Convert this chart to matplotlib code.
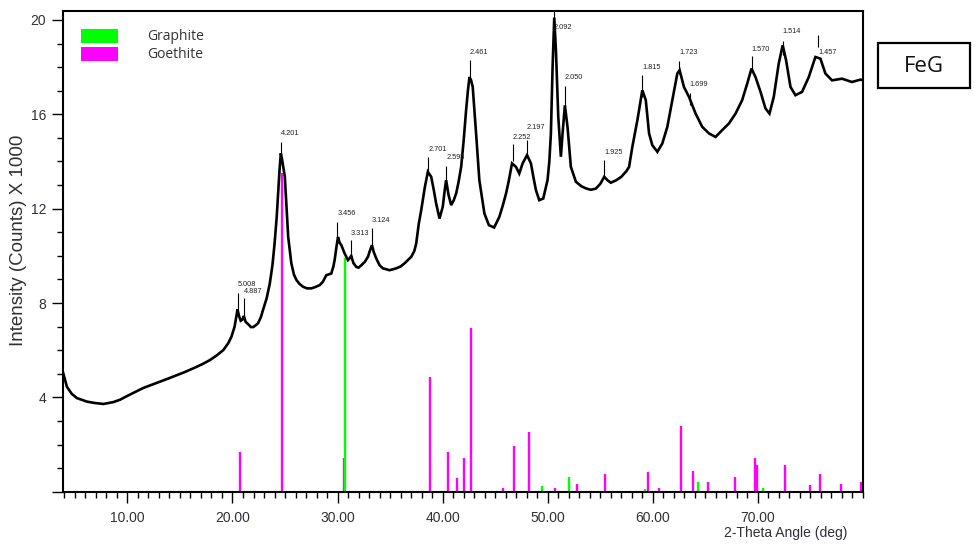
import matplotlib
matplotlib.use("Agg")
import matplotlib.pyplot as plt
from matplotlib.patches import Rectangle
import numpy as np

plt.rcParams['font.family'] = ['Liberation Sans', 'DejaVu Sans']

# ---------------- data ----------------
two_theta = [3.89, 4.24, 4.7, 5.19, 6.14, 6.9, 7.72, 8.67, 9.3, 9.94, 10.7, 11.52, 12.3, 13.1, 13.9,
             14.69, 15.5, 16.27, 17.1, 17.85, 18.5, 19.12, 19.6, 19.9, 20.2, 20.48, 20.62, 20.78, 20.95,
             21.08, 21.25, 21.49, 21.75, 21.97, 22.2, 22.44, 22.7, 22.9, 23.25, 23.55, 23.8, 24.0, 24.2,
             24.34, 24.47, 24.6, 24.75, 24.98, 25.15, 25.3, 25.6, 25.85, 26.09, 26.4, 26.71, 27.1, 27.5,
             27.9, 28.3, 28.6, 28.93, 29.2, 29.4, 29.6, 29.72, 29.9, 30.04, 30.2, 30.36, 30.67, 30.99,
             31.15, 31.3, 31.5, 31.78, 32.0, 32.26, 32.6, 32.89, 33.1, 33.27, 33.45, 33.68, 34.0, 34.31,
             34.95, 35.58, 36.0, 36.37, 37.01, 37.3, 37.48, 37.73, 37.96, 38.3, 38.59, 38.91, 39.15,
             39.38, 39.7, 40.01, 40.2, 40.33, 40.55, 40.81, 41.05, 41.28, 41.5, 41.76, 42.0, 42.23, 42.4,
             42.55, 42.7, 42.86, 43.0, 43.18, 43.49, 43.97, 44.4, 44.9, 45.39, 45.7, 46.03, 46.3, 46.6,
             46.98, 47.29, 47.61, 48.03, 48.4, 48.65, 48.88, 49.19, 49.57, 49.98, 50.15, 50.3, 50.46,
             50.62, 50.78, 51.0, 51.25, 51.41, 51.63, 51.88, 52.2, 52.68, 53.2, 53.63, 54.1, 54.58, 55.0,
             55.37, 55.7, 56.0, 56.5, 57.0, 57.5, 57.74, 58.05, 58.53, 59.0, 59.33, 59.64, 59.95, 60.43,
             60.9, 61.38, 61.85, 62.33, 62.55, 62.96, 63.44, 64.07, 64.7, 65.34, 65.97, 66.6, 67.24,
             67.87, 68.5, 68.98, 69.39, 69.77, 70.25, 70.72, 71.1, 71.51, 71.98, 72.36, 72.68, 73.1,
             73.57, 74.2, 74.84, 75.47, 75.95, 76.42, 77.05, 78.0, 78.95, 79.75, 80.0]
intensity = [5.03, 4.45, 4.15, 3.97, 3.82, 3.76, 3.72, 3.8, 3.9, 4.05, 4.22, 4.4, 4.53, 4.66, 4.8,
             4.94, 5.08, 5.23, 5.4, 5.58, 5.78, 6.0, 6.3, 6.57, 7.0, 7.73, 7.45, 7.25, 7.3,
             7.45, 7.2, 7.1, 6.98, 6.98, 7.05, 7.15, 7.4, 7.7, 8.2, 8.83, 9.6, 10.5, 11.6,
             12.64, 13.6, 14.35, 14.0, 13.35, 12.0, 10.8, 9.68, 9.2, 8.97, 8.8, 8.69, 8.62, 8.62,
             8.68, 8.76, 8.9, 9.18, 9.22, 9.25, 9.55, 9.82, 10.4, 10.8, 10.55, 10.45, 10.1, 9.82,
             9.9, 10.0, 9.7, 9.53, 9.5, 9.6, 9.75, 9.96, 10.25, 10.45, 10.15, 9.89, 9.6, 9.47,
             9.39, 9.47, 9.55, 9.68, 9.96, 10.2, 10.52, 11.37, 11.94, 12.9, 13.56, 13.35, 12.8,
             12.22, 11.58, 12.08, 12.8, 13.21, 12.6, 12.15, 12.35, 12.64, 13.1, 13.77, 14.9, 16.17, 17.0,
             17.58, 17.45, 17.16, 16.3, 15.19, 13.21, 11.8, 11.3, 11.2, 11.65, 12.1, 12.64, 13.2, 13.92,
             13.77, 13.49, 13.92, 14.27, 13.92, 13.3, 12.78, 12.36, 12.43, 13.21, 14.0, 15.19, 18.0,
             20.1, 18.7, 15.9, 14.2, 15.19, 16.38, 15.47, 13.77, 13.14, 12.95, 12.86, 12.8, 12.85, 13.05,
             13.35, 13.2, 13.1, 13.2, 13.35, 13.6, 13.77, 14.62, 15.75, 17.02, 16.6, 15.19, 14.69, 14.41,
             14.76, 15.47, 16.6, 17.73, 17.87, 17.16, 16.74, 16.03, 15.47, 15.19, 15.04, 15.33, 15.61,
             16.03, 16.6, 17.3, 17.94, 17.58, 16.95, 16.25, 16.03, 16.74, 18.15, 18.93, 18.29, 17.16,
             16.81, 16.95, 17.58, 18.43, 18.36, 17.73, 17.44, 17.51, 17.37, 17.47, 17.45]

goethite_pos = [20.70, 24.72, 30.61, 38.81, 40.49, 41.34, 42.04, 42.74, 45.71, 46.79, 48.18, 50.68,
                52.80, 55.46, 59.51, 60.59, 62.68, 63.85, 65.24, 67.81, 69.71, 69.87, 72.62, 74.99,
                75.88, 77.94, 79.80]
goethite_int = [1.69, 13.5, 1.41, 4.85, 1.69, 0.57, 1.41, 6.93, 0.17, 1.94, 2.52, 0.17,
                0.31, 0.74, 0.85, 0.17, 2.78, 0.88, 0.42, 0.61, 1.41, 1.13, 1.13, 0.28,
                0.74, 0.31, 0.42]
graphite_pos = [30.70, 49.45, 52.01, 59.26, 64.26, 70.53]
graphite_int = [9.9, 0.24, 0.64, 0.13, 0.42, 0.14]

peak_labels = ['5.008', '4.887', '4.201', '3.456', '3.313', '3.124', '2.701', '2.595', '2.461',
               '2.252', '2.197', '2.092', '2.050', '1.925', '1.815', '1.723', '1.699', '1.570',
               '1.514', '1.457']
peak_pos = [20.48, 21.08, 24.57, 29.98, 31.24, 33.27, 38.65, 40.33, 42.60, 46.66, 48.03, 50.55,
            51.63, 55.37, 59.00, 62.49, 63.50, 69.39, 72.36, 75.72]
peak_lo = [7.73, 7.39, 14.27, 10.8, 10.1, 10.45, 13.56, 13.2, 17.6, 14.0, 14.27, 19.9, 16.3,
           13.4, 16.75, 17.7, 16.4, 17.9, 18.5, 18.86]
peak_hi = [8.41, 8.2, 14.83, 11.44, 10.66, 11.17, 14.19, 13.81, 18.29, 14.73, 14.9, 20.4, 17.19,
           14.05, 17.65, 18.26, 16.9, 18.46, 19.1, 19.35]
label_y = [8.8, 8.47, 15.2, 11.8, 10.95, 11.48, 14.52, 14.19, 18.64, 15.0, 15.45, 19.68, 17.56,
           14.36, 17.98, 18.6, 17.28, 18.76, 19.5, 18.63]

xtick_vals = [10, 20, 30, 40, 50, 60, 70]
xtick_labels = ['10.00', '20.00', '30.00', '40.00', '50.00', '60.00', '70.00']
ytick_vals = [0, 4, 8, 12, 16, 20]
ytick_labels = ['', '4', '8', '12', '16', '20']

legend_names = ['Graphite', 'Goethite']
legend_colors = ['#00ff00', '#ff00ff']

# ---------------- figure ----------------
W, H = 975, 544
fig = plt.figure(figsize=(W / 100, H / 100), dpi=100)
ax = fig.add_axes([63 / W, 1 - 491.7 / H, 800 / W, (491.7 - 11) / H])
ax.set_xlim(3.87, 80)
ax.set_ylim(0, 20.38)

ax.vlines(goethite_pos, 0, goethite_int, colors='#ff00ff', lw=1.7, zorder=2)
ax.vlines(graphite_pos, 0, graphite_int, colors='#00ff00', lw=1.7, zorder=2)
ax.plot(two_theta, intensity, color='black', lw=1.9, zorder=3, solid_joinstyle='miter')
ax.vlines(peak_pos, peak_lo, peak_hi, colors='black', lw=0.8, zorder=4)
for x, y, t in zip(peak_pos, label_y, peak_labels):
    ax.text(x, y, t, fontsize=5.3, ha='left', va='center', color='#222222', zorder=5)

for s in ax.spines.values():
    s.set_linewidth(1.5)
    s.set_color('black')

ax.set_xticks(xtick_vals)
ax.set_xticklabels(xtick_labels)
ax.set_xticks(np.arange(4, 81, 1), minor=True)
ax.set_yticks(ytick_vals)
ax.set_yticklabels(ytick_labels)
ax.set_yticks(np.arange(0, 21, 1), minor=True)
ax.tick_params(which='major', direction='out', length=8, width=1.0, colors='black',
               labelcolor='#303038', labelsize=10)
ax.tick_params(which='minor', direction='out', length=4, width=1.0, colors='black')
ax.tick_params(axis='x', which='major', pad=6)
ax.tick_params(axis='y', which='major', pad=4)

fig.text(19 / W, 1 - 240 / H, 'Intensity (Counts) X 1000', rotation=90, ha='center', va='center',
         fontsize=13.5, color='#303038')
fig.text(847 / W, 1 - 533 / H, '2-Theta Angle (deg)', ha='right', va='center', fontsize=10,
         color='#303038')

# legend
rect_y = [29, 47]
text_y = [36, 54]
for name, col, ry, ty in zip(legend_names, legend_colors, rect_y, text_y):
    fig.patches.append(Rectangle((81 / W, 1 - (ry + 14) / H), 37 / W, 14 / H,
                                 transform=fig.transFigure, facecolor=col, edgecolor='none'))
    fig.text(147 / W, 1 - ty / H, name, ha='left', va='center', fontsize=10,
             family=['Open Sans', 'DejaVu Sans'], color='#333333')

# FeG box
fig.patches.append(Rectangle((878 / W, 1 - 88 / H), 92 / W, 45 / H, transform=fig.transFigure,
                             facecolor='white', edgecolor='black', lw=1.6))
fig.text(924 / W, 1 - 66 / H, 'FeG', ha='center', va='center', fontsize=16,
         family=['Open Sans', 'DejaVu Sans'], color='#111111')

fig.savefig('out.png', dpi=100)
